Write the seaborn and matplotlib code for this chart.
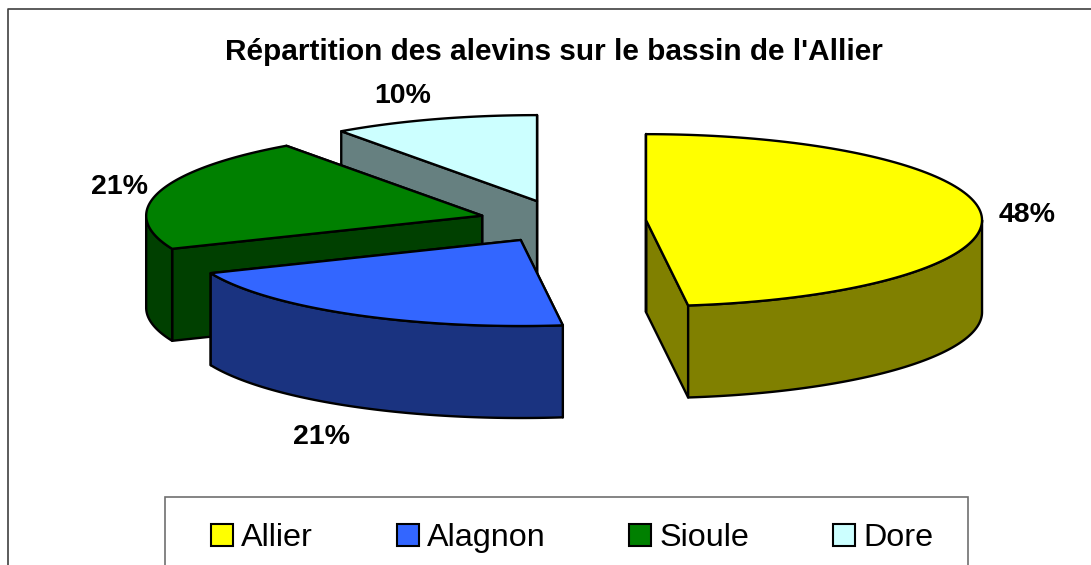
import numpy as np
import seaborn as sns
import matplotlib.pyplot as plt
from matplotlib.colors import to_rgb
from matplotlib.patches import Polygon, Patch, Rectangle

categories = ['Allier', 'Alagnon', 'Sioule', 'Dore']
shares = [48, 20.7, 21.4, 9.9]
pct_labels = ['48%', '21%', '21%', '10%']
top_colors = ['#FFFF00', '#3366FF', '#008000', '#CCFFFF']
title = "Répartition des alevins sur le bassin de l'Allier"

# pie geometry, in pixels of the 1091x565 picture
CX, CY = 562.6, 221.5
RX, RY = 336, 86
DEPTH = 92
EXPLODE = 83.6
label_pos = [(1027, 215), (321, 437), (120, 187), (403, 96)]


def arc(cx, cy, a0, a1, dy=0):
    # angles in degrees, clockwise from 12 o'clock
    t = np.radians(np.linspace(a0, a1, 120))
    return np.column_stack([cx + RX * np.sin(t), cy - RY * np.cos(t) + dy])


def draw_slice(ax, a0, a1, color):
    mid = np.radians((a0 + a1) / 2)
    cx = CX + EXPLODE * np.sin(mid)
    cy = CY - EXPLODE * RY / RX * np.cos(mid)
    side = tuple(0.5 * c for c in to_rgb(color))
    style = dict(edgecolor='black', linewidth=1.7, joinstyle='round')

    # radial walls first, the outer wall and the top then cover what is hidden
    for ang in (a1, a0):
        p = arc(cx, cy, ang, ang)[0]
        wall = [(cx, cy), p, (p[0], p[1] + DEPTH), (cx, cy + DEPTH)]
        ax.add_patch(Polygon(wall, facecolor=side, **style))

    lo, hi = max(a0, 90), min(a1, 270)
    if lo < hi:
        outer = np.vstack([arc(cx, cy, lo, hi), arc(cx, cy, hi, lo, DEPTH)])
        ax.add_patch(Polygon(outer, facecolor=side, **style))

    top = np.vstack([[(cx, cy)], arc(cx, cy, a0, a1)])
    ax.add_patch(Polygon(top, facecolor=color, **style))


def main():
    sns.set_theme(style='white')
    plt.rcParams['font.family'] = ['Liberation Sans', 'DejaVu Sans']

    fig = plt.figure(figsize=(10.91, 5.65), dpi=100)
    ax = fig.add_axes([0, 0, 1, 1])
    ax.set_xlim(0, 1091)
    ax.set_ylim(565, 0)
    ax.axis('off')

    # outer chart frame
    ax.plot([8, 8, 1091], [565, 8.5, 8.5], color='#404040', lw=1.2, clip_on=False)

    ends = np.cumsum(shares) / sum(shares) * 360
    starts = np.concatenate([[0], ends[:-1]])
    # back to front
    for i in (3, 2, 0, 1):
        draw_slice(ax, starts[i], ends[i], top_colors[i])

    for lab, (x, y) in zip(pct_labels, label_pos):
        ax.text(x, y, lab, ha='center', va='center', fontsize=20.5, fontweight='bold', color='black')

    ax.text(554, 52, title, ha='center', va='center', fontsize=21.4, fontweight='bold', color='black')

    # legend frame runs off the bottom of the picture
    ax.add_patch(Rectangle((165, 497), 803, 90, facecolor='white', edgecolor='#707070', linewidth=1.2))
    handles = [Patch(facecolor=c, edgecolor='black', linewidth=1.5) for c in top_colors]
    ax.legend(handles, categories, ncol=4, fontsize=23.3, loc='upper left',
              bbox_to_anchor=(211 / 1091, 1 - 523 / 565), borderaxespad=0,
              handlelength=0.68, handleheight=0.68, handletextpad=0.25,
              columnspacing=2.59, borderpad=0, frameon=False, labelcolor='black')

    fig.savefig('out.png', dpi=100)


if __name__ == '__main__':
    main()
